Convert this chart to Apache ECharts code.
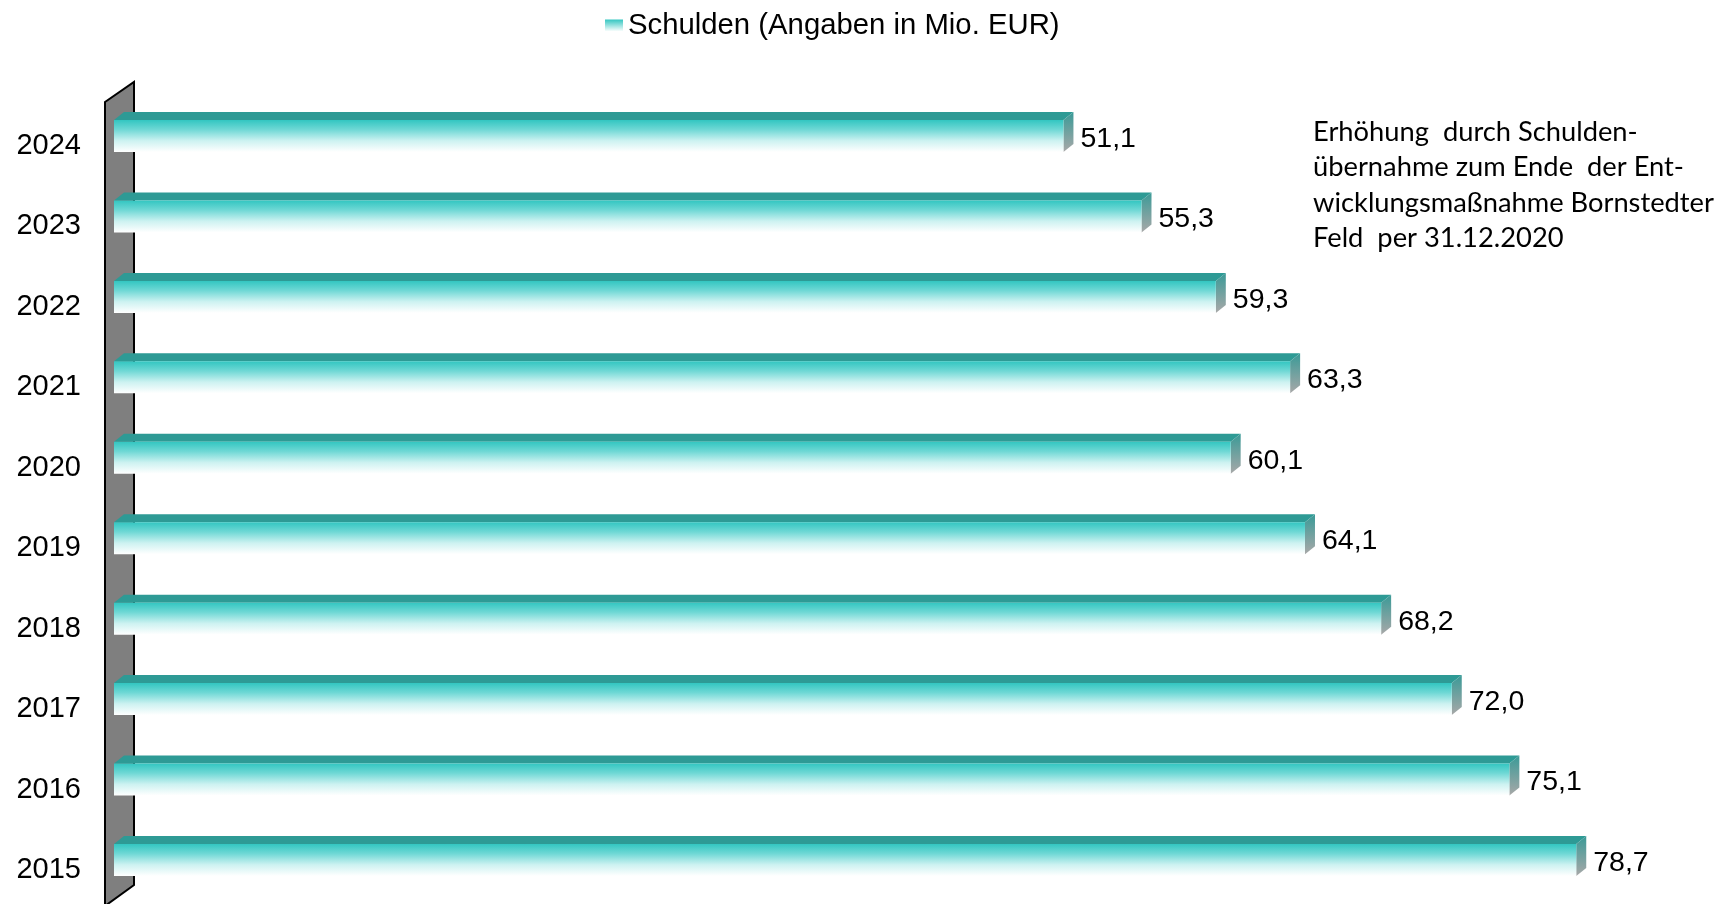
<!DOCTYPE html>
<html>
<head>
<meta charset="utf-8">
<script src="https://cdn.jsdelivr.net/npm/echarts@6/dist/echarts.min.js"></script>
<style>
html,body{margin:0;padding:0;background:#fff;}
#chart{width:1731px;height:904px;}
</style>
</head>
<body>
<div id="chart"></div>
<script>
const years = ['2015','2016','2017','2018','2019','2020','2021','2022','2023','2024'];
const debts = [78.7, 75.1, 72.0, 68.2, 64.1, 60.1, 63.3, 59.3, 55.3, 51.1];
const seriesName = 'Schulden (Angaben in Mio. EUR)';
const noteLines = [
  'Erhöhung  durch Schulden-',
  'übernahme zum Ende  der Ent-',
  'wicklungsmaßnahme Bornstedter',
  'Feld  per 31.12.2020'
];

const FONT = '"Liberation Sans", Arial, sans-serif';

function fmt(v){ return v.toFixed(1).replace('.', ','); }

function renderItem(params, api){
  const v = api.value(0);
  const i = api.value(1);
  const p0 = api.coord([0, i]);
  const p1 = api.coord([v, i]);
  const c = p0[1];
  const x0 = p0[0], x1 = p1[0];
  const fTop = c - 16, fBot = c + 16;
  const dx = 10, dy = 8;
  return {
    type: 'group',
    children: [
      { type: 'polygon', shape: { points: [[x0, fTop],[x0+dx, fTop-dy],[x1+dx, fTop-dy],[x1, fTop]] },
        style: { fill: '#2e9a95' } },
      { type: 'polygon', shape: { points: [[x1, fTop],[x1+dx, fTop-dy],[x1+dx, fBot-dy],[x1, fBot]] },
        style: { fill: new echarts.graphic.LinearGradient(0,0,0,1,[
          {offset:0,color:'#3a9a97'},{offset:1,color:'#a8a8a8'}]) } },
      { type: 'rect', shape: { x: x0, y: fTop, width: x1 - x0, height: fBot - fTop },
        style: { fill: new echarts.graphic.LinearGradient(0,0,0,1,[
          {offset:0,color:'#33c6c1'},{offset:0.3,color:'#6fd8d5'},{offset:0.65,color:'#cdf2f1'},{offset:1,color:'#ffffff'}]) } },
      { type: 'text', x: x1 + dx + 7, y: c + 3,
        style: { text: fmt(v), fill: '#000', font: '28.5px ' + FONT, verticalAlign: 'middle', align: 'left' } }
    ]
  };
}

const chart = echarts.init(document.getElementById('chart'));
chart.setOption({
  animation: false,
  backgroundColor: '#fff',
  legend: {
    left: 600, top: 6,
    icon: 'rect', itemWidth: 18, itemHeight: 12,
    textStyle: { fontSize: 29.3, fontFamily: FONT, color: '#000' },
    data: [seriesName]
  },
  grid: { left: 114, right: 130.6, top: 95.8, bottom: 3.8, containLabel: false },
  xAxis: { type: 'value', min: 0, max: 80, show: false, splitLine: { show: false } },
  yAxis: {
    type: 'category', data: years,
    axisLine: { show: false }, axisTick: { show: false },
    axisLabel: {
      margin: 33,
      formatter: function(v){ return '{y|' + v + '}'; },
      rich: { y: { fontSize: 29, fontFamily: FONT, color: '#000', padding: [20,0,0,0] } }
    }
  },
  graphic: [
    { type: 'polygon', z: -10,
      shape: { points: [[105,102],[134,82],[134,885],[105,906]] },
      style: { fill: '#7f7f7f', stroke: '#000', lineWidth: 2 } },
    { type: 'text', left: 1313, top: 114,
      style: { text: noteLines.join('\n'), fill: '#000', font: '27.3px Lato, "Open Sans", sans-serif', lineHeight: 35.5 } }
  ],
  series: [{
    name: seriesName,
    type: 'custom',
    renderItem: renderItem,
    itemStyle: { color: new echarts.graphic.LinearGradient(0,0,0,1,[{offset:0,color:'#33c6c1'},{offset:1,color:'#ffffff'}]) },
    encode: { x: 0, y: 1 },
    data: debts.map((v, i) => [v, i])
  }]
});
</script>
</body>
</html>
